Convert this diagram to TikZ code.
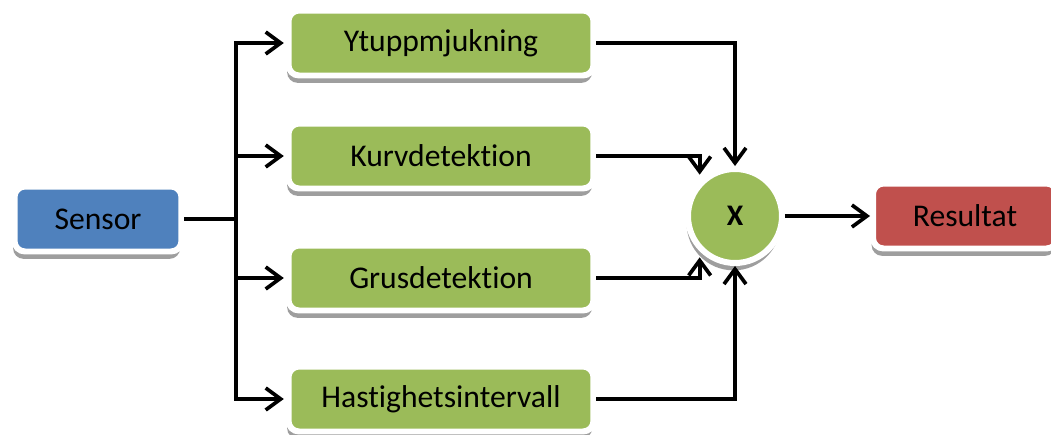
\documentclass[tikz,border=0pt]{standalone}
\usepackage{fontspec}
\setmainfont[Ligatures=NoCommon]{Carlito}
\usetikzlibrary{arrows.meta, shadows, positioning}

\definecolor{sensorblue}{HTML}{4F81BD}
\definecolor{filtergreen}{HTML}{9BBB59}
\definecolor{resultred}{HTML}{C0504D}

\tikzset{
  blk/.style={draw=white, line width=3.4pt, rounded corners=6pt, minimum height=1.3cm,
    font=\fontsize{18}{20}\selectfont, text=black,
    drop shadow={shadow xshift=-0.8pt, shadow yshift=-4.2pt, fill=black!38, opacity=1}},
  filt/.style={blk, fill=filtergreen, minimum width=6.1cm},
  link/.style={line width=2.1pt, -{Straight Barb[length=3mm, width=4.4mm]}}
}

\begin{document}
\begin{tikzpicture}[x=0.02cm, y=-0.02cm]
    \clip (0,0) rectangle (1051,434);
    \useasboundingbox (0,0) rectangle (1051,434);
    % Input and the four filters
    \node[blk, fill=sensorblue, minimum width=3.34cm] (sensor) at (98,219) {Sensor};
    \node[filt] (ytupp) at (441,43) {Ytuppmjukning};
    \node[filt] (kurv) at (441,156) {Kurvdetektion};
    \node[filt] (grus) at (441,278) {Grusdetektion};
    \node[filt] (hast) at (441,399) {Hastighetsintervall};
    % Product and result
    \node[circle, draw=white, line width=3.4pt, fill=filtergreen, minimum size=1.88cm,
      font=\fontsize{17}{18}\selectfont\bfseries,
      drop shadow={shadow xshift=-0.8pt, shadow yshift=-4.2pt, fill=black!38, opacity=1}] (mult) at (735,216) {X};
    \node[blk, fill=resultred, minimum width=3.68cm] (res) at (965,216) {Resultat};
    % Branching from the sensor
    \coordinate (trunk) at (236,219);
    \draw[line width=2.1pt] (sensor) -- (trunk);
    \foreach \f in {ytupp, kurv, grus, hast}
        \draw[link, shorten >=1pt] (trunk) |- (\f);
    % Into the product
    \draw[link] (ytupp) -| (mult.north);
    \draw[link, shorten >=0.12cm] (kurv) -| (mult.north west);
    \draw[link, shorten >=0.12cm] (grus) -| (mult.south west);
    \draw[link] (hast) -| (mult.south);
    \draw[link] (mult) -- (res);
\end{tikzpicture}
\end{document}
